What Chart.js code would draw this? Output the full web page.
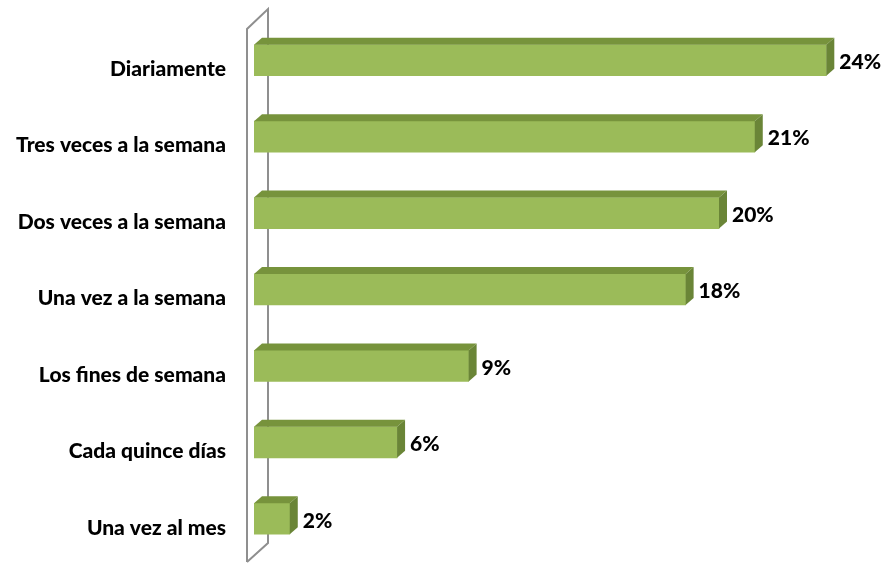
<!DOCTYPE html>
<html>
<head>
<meta charset="utf-8">
<script src="https://cdn.jsdelivr.net/npm/chart.js@4"></script>
<style>
  body { margin: 0; background: #fff; }
  canvas { display: block; }
</style>
</head>
<body>
<canvas id="chart" width="881" height="563"></canvas>
<script>
// DATA
const categories = [
  "Diariamente",
  "Tres veces a la semana",
  "Dos veces a la semana",
  "Una vez a la semana",
  "Los fines de semana",
  "Cada quince días",
  "Una vez al mes"
];
const values = [24.0, 21.0, 19.5, 18.1, 9.0, 6.0, 1.5];
const valueLabels = ["24%", "21%", "20%", "18%", "9%", "6%", "2%"];

const FONT = 'Lato, "DejaVu Sans Condensed", sans-serif';
const DEPTH_X = 8;
const DEPTH_Y = 7;

// back wall of the 3D plot (drawn behind bars)
const wallPlugin = {
  id: "wall",
  beforeDatasetsDraw(chart) {
    const ctx = chart.ctx;
    const a = chart.chartArea;
    const l = a.left - 7, r = a.left + 14;
    ctx.save();
    ctx.strokeStyle = "#8f8f8f";
    ctx.lineWidth = 2;
    ctx.beginPath();
    ctx.moveTo(l, 562);
    ctx.lineTo(l, 29);
    ctx.lineTo(r, 9);
    ctx.lineTo(r, 543);
    ctx.lineTo(l, 562);
    ctx.stroke();
    ctx.restore();
  }
};

// top and side faces of each bar plus value labels
const barFacesPlugin = {
  id: "barFaces",
  afterDatasetsDraw(chart) {
    const ctx = chart.ctx;
    const meta = chart.getDatasetMeta(0);
    ctx.save();
    meta.data.forEach((bar, i) => {
      const p = bar.getProps(["x", "y", "base", "height"], true);
      const top = p.y - p.height / 2;
      const bottom = p.y + p.height / 2;

      ctx.fillStyle = "#77933c";
      ctx.beginPath();
      ctx.moveTo(p.base, top);
      ctx.lineTo(p.base + DEPTH_X, top - DEPTH_Y);
      ctx.lineTo(p.x + DEPTH_X, top - DEPTH_Y);
      ctx.lineTo(p.x, top);
      ctx.closePath();
      ctx.fill();

      ctx.fillStyle = "#6a8537";
      ctx.beginPath();
      ctx.moveTo(p.x, top);
      ctx.lineTo(p.x + DEPTH_X, top - DEPTH_Y);
      ctx.lineTo(p.x + DEPTH_X, bottom - DEPTH_Y);
      ctx.lineTo(p.x, bottom);
      ctx.closePath();
      ctx.fill();

      ctx.fillStyle = "#000";
      ctx.font = "900 21px " + FONT;
      ctx.textAlign = "left";
      ctx.textBaseline = "middle";
      ctx.fillText(valueLabels[i], p.x + DEPTH_X + 5, p.y + 2);
    });
    ctx.restore();
  }
};

new Chart(document.getElementById("chart"), {
  type: "bar",
  data: {
    labels: categories,
    datasets: [{
      data: values,
      backgroundColor: "#9bbb59",
      borderWidth: 0,
      barThickness: 31
    }]
  },
  options: {
    indexAxis: "y",
    responsive: false,
    animation: false,
    layout: { padding: { top: 22, bottom: 6, right: 7, left: 0 } },
    plugins: {
      legend: { display: false },
      tooltip: { enabled: false }
    },
    scales: {
      x: {
        display: false,
        min: 0,
        max: 26
      },
      y: {
        afterFit: s => {
          s.width = 254;
          s.paddingTop = 0;
          s.paddingBottom = 0;
        },
        grid: { display: false, drawTicks: false },
        border: { display: false },
        ticks: {
          color: "#000",
          padding: 28,
          labelOffset: 9,
          font: { family: FONT, size: 21, weight: 900 }
        }
      }
    }
  },
  plugins: [wallPlugin, barFacesPlugin]
});
</script>
</body>
</html>
